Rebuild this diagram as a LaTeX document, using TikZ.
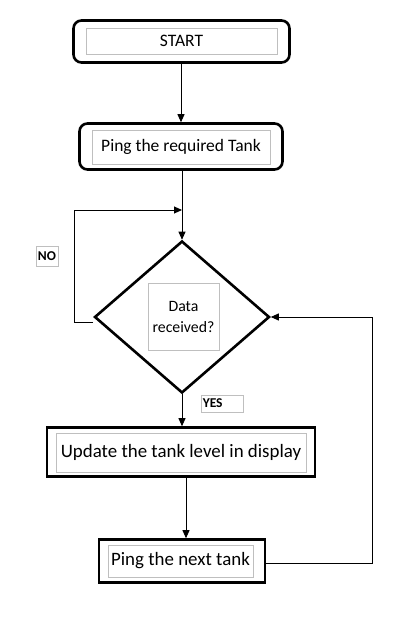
\documentclass[tikz,border=0pt]{standalone}
\usepackage{fontspec}
\setmainfont{Carlito}
\usetikzlibrary{arrows.meta,shapes.geometric}
\begin{document}
\begin{tikzpicture}[x=1pt,y=-1pt,
  outerbox/.style={draw=black,line width=2.6pt,inner sep=0pt,fill=white},
  innerbox/.style={draw=black!25,line width=0.9pt,inner sep=0pt,align=center,font=\fontsize{17.5}{20}\selectfont},
  bigtext/.style={font=\fontsize{18.9}{22}\selectfont},
  tag/.style={draw=black!25,line width=0.9pt,inner sep=0pt,font=\fontsize{13.5}{15}\selectfont\bfseries},
  conn/.style={line width=0.9pt,draw=black},
  arr/.style={conn,-{Triangle[length=8pt,width=7pt]}}
]
\useasboundingbox (0,0) rectangle (415,617);
\fill[white] (0,0) rectangle (415,617);

% START
\node[outerbox,rounded corners=8pt,minimum width=216pt,minimum height=42pt] (startO) at (181.5,41.5) {};
\node[innerbox,minimum width=191pt,minimum height=26pt] (startI) at (181.5,41) {START};

% Ping required
\node[outerbox,rounded corners=8pt,minimum width=203pt,minimum height=46pt] (pingO) at (181,146.5) {};
\node[innerbox,minimum width=178pt,minimum height=34pt] (pingI) at (181,147) {Ping the required Tank};

% Decision diamond
\node[draw=black,line width=2.6pt,diamond,minimum width=175pt,minimum height=152pt,inner sep=0pt] (dec) at (182,317) {};
\node[innerbox,minimum width=71pt,minimum height=67pt,font=\fontsize{15.8}{21}\selectfont] (decI) at (183.5,316.5) {Data\\received?};

% Update
\node[outerbox,minimum width=268pt,minimum height=49pt] (updO) at (181,452) {};
\node[innerbox,bigtext,minimum width=250pt,minimum height=39pt] (updI) at (181,452.5) {Update the tank level in display};

% Ping next
\node[outerbox,minimum width=166pt,minimum height=43pt] (nextO) at (182,561) {};
\node[innerbox,bigtext,minimum width=145pt,minimum height=32pt] (nextI) at (180.5,561) {Ping the next tank};

% labels
\node[tag,minimum width=22pt,minimum height=20pt] (no) at (47,256) {NO};
\node[tag,minimum width=42pt,minimum height=17pt,anchor=west,text width=40pt,align=left] (yes) at (201,403.5) {\hspace{0.3pt}YES};

% connectors
\coordinate (loopTop) at (182,210);
\coordinate (loopL1) at (74,322);
\coordinate (loopL2) at (74,210);
\coordinate (rt1) at (372,563);
\coordinate (rt2) at (372,317);

\draw[arr] (startO.south -| 181,0) -- (pingO.north -| 181,0);
\draw[arr] (pingO.south -| dec.north) -- (dec.north);
\draw[conn] (dec.west |- loopL1) -- (loopL1) -- (loopL2);
\draw[arr] (loopL2) -- (loopTop);
\draw[arr] (dec.south) -- (updO.north -| dec.south);
\draw[arr] (updO.south -| 186,0) -- (nextO.north -| 186,0);
\draw[conn] (nextO.east |- rt1) -- (rt1) -- (rt2);
\draw[arr] (rt2) -- (dec.east);
\end{tikzpicture}
\end{document}
